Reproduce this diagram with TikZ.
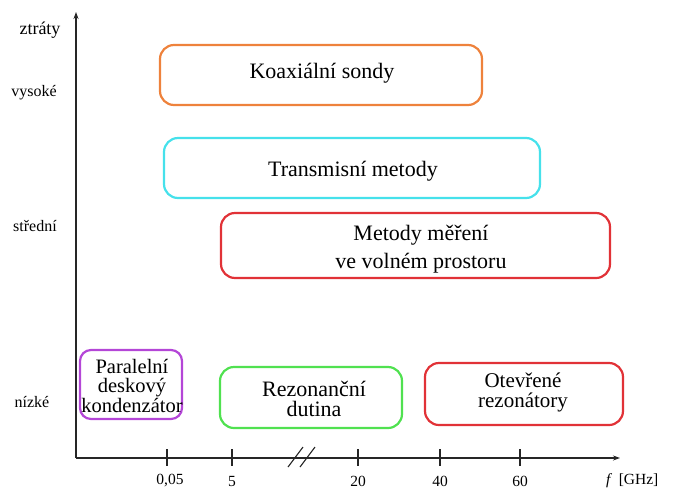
\documentclass[tikz,border=0pt]{standalone}
\usepackage{fontspec}
\setmainfont{Liberation Serif}
\usetikzlibrary{arrows.meta}
\definecolor{corange}{RGB}{238,130,60}
\definecolor{ccyan}{RGB}{70,225,235}
\definecolor{cred}{RGB}{225,50,55}
\definecolor{cpurple}{RGB}{180,70,215}
\definecolor{cgreen}{RGB}{80,225,80}
\begin{document}
\begin{tikzpicture}[x=1pt,y=-1pt,
  methbox/.style={draw,line width=2.2pt,rounded corners=14pt},
  boxtext/.style={font=\fontsize{22}{26}\selectfont,align=center,inner sep=0pt},
  axlabel/.style={font=\fontsize{16}{18}\selectfont,inner sep=0pt},
  ticklabel/.style={font=\fontsize{15.5}{17}\selectfont,inner sep=0pt},
  axisline/.style={line width=1.1pt,draw=black!85},
  tickline/.style={line width=1.1pt,draw=black!85}]
\useasboundingbox (0,0) rectangle (678,491);
% axes
\coordinate (O) at (76,458);
\coordinate (ytop) at (76,12);
\coordinate (xend) at (620,458);
\draw[axisline,-{Stealth[length=7pt,width=5pt]}] (O) -- (ytop);
\draw[axisline,-{Stealth[length=7pt,width=5pt]}] (O) -- (xend);
% break mark
\coordinate (b1a) at (288,467); \coordinate (b1b) at (303,447);
\coordinate (b2a) at (300,467); \coordinate (b2b) at (315,447);
\draw[tickline] (b1a) -- (b1b);
\draw[tickline] (b2a) -- (b2b);
% ticks
\foreach \n/\x in {t1/167,t2/232,t3/358,t4/440,t5/520}{
  \coordinate (\n a) at (\x,449); \coordinate (\n b) at (\x,466);
  \draw[tickline] (\n a) -- (\n b);
}
\node[ticklabel] (l1) at (170,481) {0,05};
\node[ticklabel] (l2) at (232,481) {5};
\node[ticklabel] (l3) at (358,481) {20};
\node[ticklabel] (l4) at (440,481) {40};
\node[ticklabel] (l5) at (520,481) {60};
\node[ticklabel,anchor=west] (lf) at (606,481) {\textit{f}\ \,[GHz]};
% y labels
\node[axlabel,font=\fontsize{18}{20}\selectfont] (yz) at (40,30) {ztráty};
\node[axlabel] (yv) at (34,93) {vysoké};
\node[axlabel] (ys) at (35,226) {střední};
\node[axlabel] (yn) at (32,402) {nízké};
% boxes
\draw[methbox,draw=corange] (160,45) rectangle (482,105);
\node[boxtext] (koax) at (322,73) {Koaxiální sondy};
\draw[methbox,draw=ccyan] (164,138) rectangle (540,198);
\node[boxtext] (trans) at (353,171) {Transmisní metody};
\draw[methbox,draw=cred] (221,213) rectangle (610,278);
\node[boxtext,font=\fontsize{22}{28}\selectfont] (volny) at (421,249) {Metody měření\\ve volném prostoru};
\draw[methbox,draw=cpurple,rounded corners=11pt] (80,350) rectangle (182,419);
\node[boxtext,font=\fontsize{20.5}{18.5}\selectfont] (desk) at (132,386) {Paralelní\\deskový\\kondenzátor};
\draw[methbox,draw=cgreen] (220,367) rectangle (402,428);
\node[boxtext,font=\fontsize{22}{20}\selectfont] (dut) at (314,399) {Rezonanční\\dutina};
\draw[methbox,draw=cred] (425,363) rectangle (623,425);
\node[boxtext,font=\fontsize{21}{20}\selectfont] (otev) at (523,392) {Otevřené\\rezonátory};
\end{tikzpicture}
\end{document}
